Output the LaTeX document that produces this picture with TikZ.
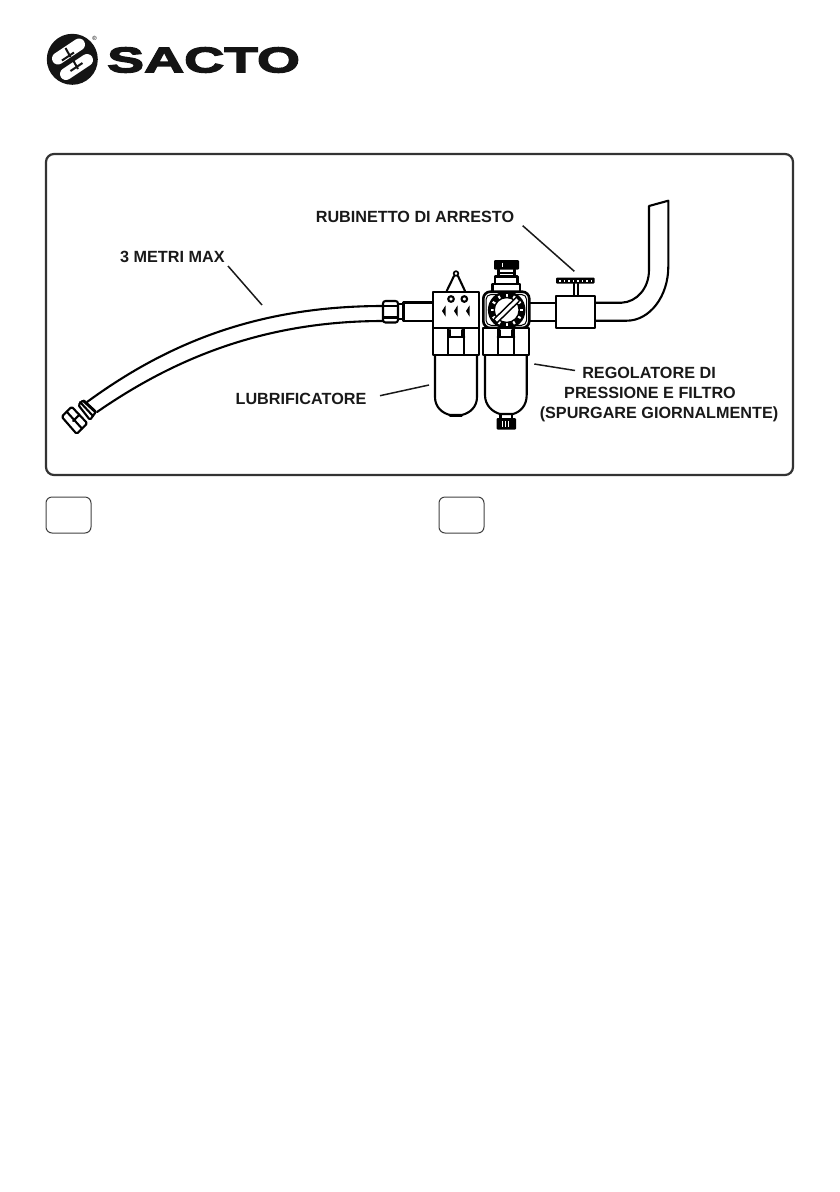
\documentclass[tikz,border=0pt]{standalone}
\usepackage{fontspec}
\setmainfont{Liberation Sans}
\newfontfamily\logofont[FakeBold=4,FakeStretch=1.56]{Liberation Sans Bold}
\tikzset{
  ink/.style={line width=2.1pt,draw=black,line cap=round,line join=round},
  part/.style={ink,fill=white},
  leader/.style={line width=1.5pt,draw=black!90},
  lab/.style={font=\bfseries\fontsize{16.2}{20}\selectfont,text=black!90,align=center,inner sep=0pt,anchor=base},
}
\begin{document}
\begin{tikzpicture}[x=1pt,y=-1pt]
\useasboundingbox (0,0) rectangle (840,1192);
% logo
\fill[black!92] (72.3,59.3) circle (25.5);
\draw[white,line width=12pt,line cap=round] (58,58.5) -- (79,44.5);
\draw[white,line width=12pt,line cap=round] (66,74) -- (87,60);
\draw[black!92,line width=2pt] (62,60.5) -- (74,52.5) (70.5,71) -- (82.5,63);
\draw[black!92,line width=2pt] (65.5,48) -- (70.5,57) (73,60) -- (78,69);
\node[inner sep=0pt,font=\fontsize{6}{6}\selectfont] (reg) at (94.5,38.5) {®};
\node[inner sep=0pt,anchor=west,font=\logofont\fontsize{35.5}{35.5}\selectfont,text=black!92] (brand) at (107,60) {SACTO};
% frame
\draw[draw=black!80,line width=2.2pt,rounded corners=8pt] (46,154) rectangle (793,475);
\draw[draw=black!75,line width=1pt,rounded corners=6pt] (46,497) rectangle (91,533);
\draw[draw=black!75,line width=1pt,rounded corners=6pt] (439,497) rectangle (484,533);
% hose
\draw[ink] (87,402) .. controls (165,345) and (255,306) .. (383,306);
\draw[ink] (97,412) .. controls (175,358) and (265,321) .. (383,321);
% hose end fittings
\draw[part,rounded corners=1.5pt] (78.3,405) -- (83.3,400) -- (96,411.7) -- (90,420) -- cycle;
\draw[ink] (80,402) -- (93,416);
\draw[black,line width=2.6pt] (83,400.5) -- (95.5,412);
\draw[part,rounded corners=1.5pt] (61.7,416.7) -- (71.7,406.7) -- (87.3,423.3) -- (76.7,434) -- cycle;
\draw[ink] (66.7,411.7) -- (82,428.6);
\draw[ink] (73,421) -- (79.5,414.7);
% left fitting
\draw[part] (397,304) rectangle (404,319);
\draw[part,rounded corners=2.5pt] (383,301) rectangle (398,322.5);
\draw[ink] (384,306) -- (397,306) (384,317.5) -- (397,317.5);
\draw[part] (403.5,302.5) rectangle (432.7,321);
% valve pipe
\draw[ink] (529,302.7) -- (555.7,302.7) (529,320.7) -- (555.7,320.7);
\draw[ink] (595,302.7) -- (621.7,302.7) .. controls (637,302) and (649,288) .. (649,270) -- (649,206) -- (668.3,200.7) -- (668.3,266.7) .. controls (668.3,296) and (650,320.7) .. (626.7,320.7) -- (595,320.7);
\draw[part] (555.7,295.7) rectangle (595,327.7);
\draw[ink,line width=1.3pt] (574,283.5) -- (574,295.7) (578,283.5) -- (578,295.7);
\fill[black,rounded corners=1pt] (556,277.7) rectangle (594.7,283.5);
\foreach \x in {559,563.5,...,592}{\fill[white] (\x,279.5) rectangle ++(1.6,2.2);}
% lubricator
\draw[ink] (446.7,291) -- (454,276) (465,291) -- (458,276);
\draw[part,line width=1.7pt] (456,273.5) circle (2.3);
\draw[part] (432.7,291.7) rectangle (479.3,328.3);
\draw[part] (432.7,328.3) rectangle (479.3,355);
\draw[ink] (448.3,328.3) -- (448.3,355) (464.3,328.3) -- (464.3,355);
\draw[ink] (448.3,337) -- (464.3,337) (450,330) -- (450,337) (462.5,330) -- (462.5,337);
\draw[ink] (435,355) -- (435,397) .. controls (435,407) and (442,413) .. (450,415) -- (461.7,415) .. controls (470,413) and (477,407) .. (477,397) -- (477,355);
\draw[black,line width=3pt,line cap=round] (450,415.3) -- (461.7,415.3);
\draw[ink] (451,299) circle (2.8) (464.3,299) circle (2.8);
\fill[black] (442,311) -- (445.5,305.5) -- (445.5,316.5) -- cycle;
\fill[black] (454,311) -- (457.5,305.5) -- (457.5,316.5) -- cycle;
\fill[black] (466,311) -- (469.5,305.5) -- (469.5,316.5) -- cycle;
% regulator
\draw[part] (492.5,284) rectangle (520,291.7);
\draw[part] (495,276.5) rectangle (517.5,284);
\draw[ink] (498.5,269.5) -- (498.5,276.5) (514.5,269.5) -- (514.5,276.5) (498.5,273) -- (514.5,273);
\fill[black,rounded corners=1pt] (494,260) rectangle (519,269.5);
\draw[white,line width=.8pt] (502.5,262.5) -- (502.5,267);
\draw[part,line width=2.6pt,rounded corners=7pt] (483.3,291.7) rectangle (529.3,328);
\draw[ink,line width=1pt,rounded corners=5pt] (486,294.5) rectangle (526.6,325.3);
\fill[black] (506.7,310) circle (18.8);
\foreach \a in {0,30,...,330}{\fill[white,rotate around={\a:(506.7,310)}] (505.7,293.8) rectangle (507.7,297.2);}
\fill[white] (506.7,310) circle (12.5);
\draw[ink,line width=1.4pt] (506.7,310) circle (12.5);
\draw[black,line width=6.2pt] (496,320.5) -- (517.5,299.5);
\draw[white,line width=3pt] (496,320.5) -- (517.5,299.5);
\draw[part] (482.7,328.3) rectangle (529.3,355);
\draw[ink] (497.7,328.3) -- (497.7,355) (514.3,328.3) -- (514.3,355);
\draw[ink] (497.7,337) -- (514.3,337) (499.5,330) -- (499.5,337) (512.5,330) -- (512.5,337);
\draw[ink] (485,355) -- (485,395) .. controls (485,406) and (493,412) .. (500,414) -- (513,414) .. controls (520,412) and (526.7,406) .. (526.7,395) -- (526.7,355);
\draw[ink] (500.5,414) -- (500.5,418.5) (512,414) -- (512,418.5);
\fill[black,rounded corners=1pt] (496.7,418) rectangle (516,429.5);
\draw[white,line width=.8pt] (502,421) -- (502,427) (505,421) -- (505,427) (508,421) -- (508,427);
% labels
\node[lab] (metri) at (172.4,262) {3 METRI MAX};
\node[lab] (rubi) at (415,222.5) {RUBINETTO DI ARRESTO};
\node[lab] (lubri) at (301,404) {LUBRIFICATORE};
\node[lab] (regoa) at (649,378) {REGOLATORE DI};
\node[lab] (regob) at (650,398) {PRESSIONE E FILTRO};
\node[lab] (regoc) at (659,418) {(SPURGARE GIORNALMENTE)};
% leaders
\coordinate (c1) at (262,305);
\coordinate (c2) at (574.3,271.3);
\coordinate (c3) at (429,385);
\coordinate (c4) at (534.3,364);
\coordinate (d1) at (228,266);
\coordinate (d2) at (522.7,225.7);
\coordinate (d3) at (380,395.7);
\coordinate (d4) at (575,370.5);
\draw[leader] (d1) -- (c1);
\draw[leader] (d2) -- (c2);
\draw[leader] (d3) -- (c3);
\draw[leader] (d4) -- (c4);
\end{tikzpicture}
\end{document}
